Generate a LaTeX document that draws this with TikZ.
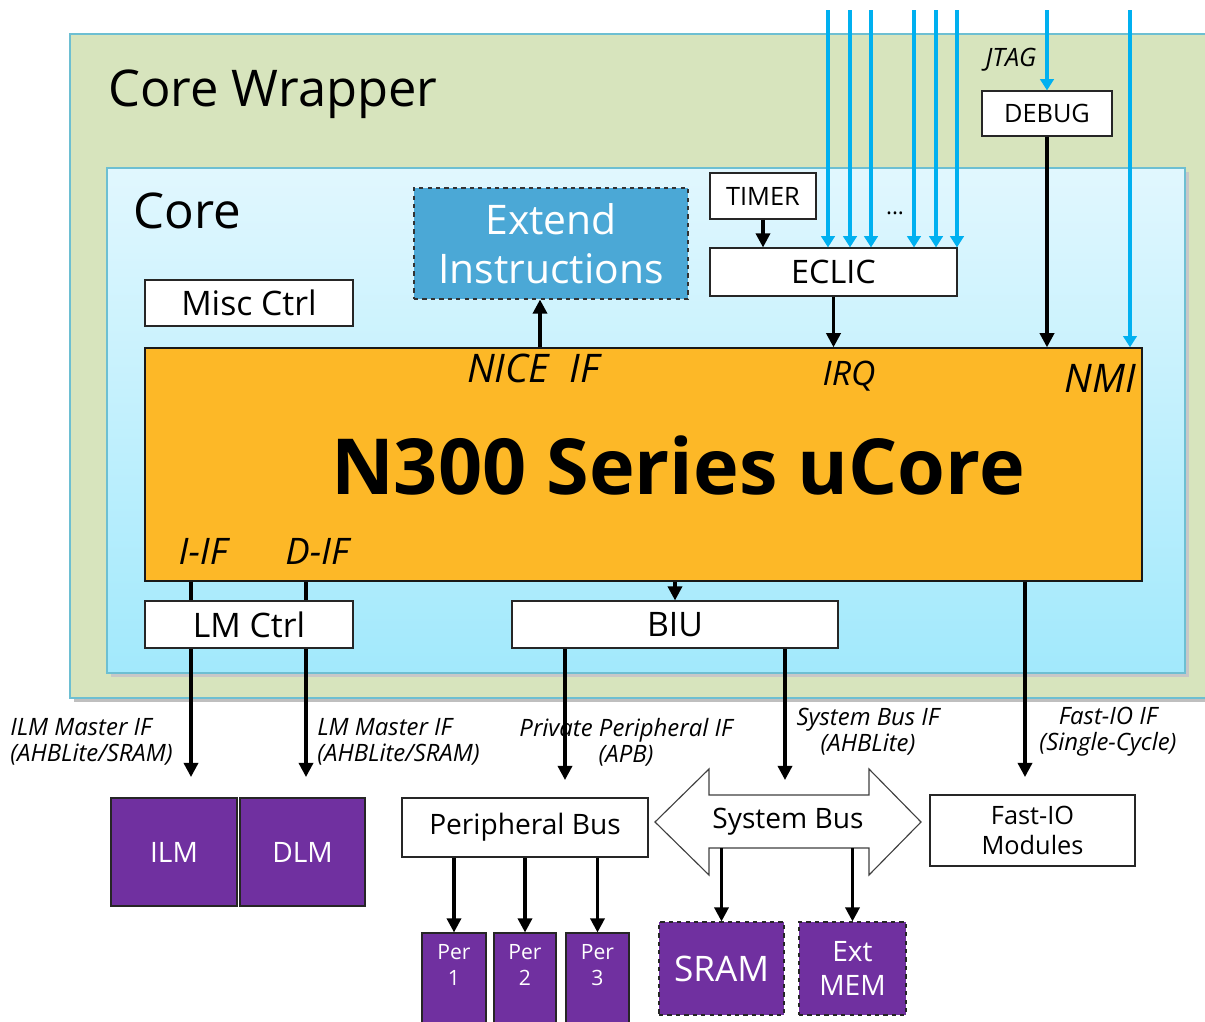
\documentclass[tikz,border=0pt]{standalone}
\usepackage{fontspec}
\setmainfont{Open Sans}
\usepackage{tikz}
\usetikzlibrary{arrows.meta}
\usetikzlibrary{positioning}
\definecolor{wrapgreen}{HTML}{D7E4BD}
\definecolor{wrapedge}{HTML}{6DBFD2}
\definecolor{coretop}{HTML}{E1F7FE}
\definecolor{corebot}{HTML}{A2E9FC}
\definecolor{extblue}{HTML}{4BA8D6}
\definecolor{ucoreorange}{HTML}{FDB827}
\definecolor{mempurple}{HTML}{7030A0}
\definecolor{irqblue}{HTML}{00B0F0}
\newlength{\pxu}
\setlength{\pxu}{0.025cm}
\tikzstyle{box} = [rectangle, draw=black!85, fill=white, line width=0.8pt, inner sep=0pt, text centered, align=center, font=\fontsize{24}{28}\selectfont]
\tikzstyle{smallbox} = [box, font=\fontsize{18}{21}\selectfont]
\tikzstyle{mem} = [box, fill=mempurple, text=white, font=\fontsize{20}{24}\selectfont]
\tikzstyle{pertxt} = [text=white, align=center, inner sep=0pt, font=\fontsize{15}{18}\selectfont]
\tikzstyle{iflabel} = [inner sep=0pt, font=\fontsize{17}{18.5}\selectfont\itshape]
\tikzstyle{pinlabel} = [inner sep=0pt, font=\fontsize{26}{30}\selectfont\itshape]
\tikzstyle{arrow} = [line width=2.3pt, ->, >={Stealth[inset=0pt, length=10pt, width=10pt]}]
\tikzstyle{wire} = [line width=2.3pt]
\tikzstyle{irqline} = [draw=irqblue, line width=2.5pt, ->, >={Stealth[inset=0pt, length=8pt, width=9.5pt]}]
\begin{document}
\begin{tikzpicture}[x=\pxu, y=-\pxu]
    \clip (0,0) rectangle (1205,1021);
    \fill [white] (0,0) rectangle (1205,1021);
    % wrapper and core
    \fill [black!25] (74,38) rectangle (1214,702);
    \draw [fill=wrapgreen, draw=wrapedge, line width=0.8pt] (70,34) rectangle (1210,698);
    \node (wraplbl) [anchor=base west, inner sep=0pt, font=\fontsize{36}{40}\selectfont] at (108,106) {Core Wrapper};
    \fill [black!22] (111,172) rectangle (1189,677);
    \draw [top color=coretop, bottom color=corebot, draw=wrapedge, line width=0.8pt] (107,168) rectangle (1185,673);
    \node (corelbl) [anchor=base west, inner sep=0pt, font=\fontsize{35}{40}\selectfont] at (133,228) {Core};
    % blocks
    \node (extend) [box, fill=extblue, text=white, dashed, draw=black!80, minimum width=274\pxu, minimum height=111\pxu, font=\fontsize{29}{35}\selectfont] at (551,243.5) {Extend\\Instructions};
    \node (misc) [box, minimum width=208\pxu, minimum height=46\pxu] at (249,303) {Misc Ctrl};
    \node (timer) [smallbox, minimum width=106\pxu, minimum height=46\pxu] at (763,196) {TIMER};
    \node (eclic) [box, minimum width=247\pxu, minimum height=48\pxu, font=\fontsize{23}{28}\selectfont] at (833.5,272) {ECLIC};
    \node (debug) [smallbox, minimum width=130\pxu, minimum height=45\pxu] at (1047,113.5) {DEBUG};
    \node (ucore) [box, fill=ucoreorange, draw=black!90, line width=1pt, minimum width=997\pxu, minimum height=233\pxu] at (643.5,464.5) {};
    \node (ucoretxt) [inner sep=0pt, font=\fontsize{55}{60}\selectfont\bfseries] at (678,465) {N300 Series uCore};
    \node (lmctrl) [box, minimum width=208\pxu, minimum height=47\pxu] at (249,624.5) {LM Ctrl};
    \node (biu) [box, minimum width=326\pxu, minimum height=47\pxu] at (675,624.5) {BIU};
    % pins on the uCore
    \node (nicelbl) [pinlabel, font=\fontsize{28}{30}\selectfont\itshape] at (533,368) {NICE~~IF};
    \node (irqlbl) [pinlabel, font=\fontsize{24}{28}\selectfont\itshape] at (849,376) {IRQ};
    \node (nmilbl) [pinlabel, font=\fontsize{28}{30}\selectfont\itshape] at (1100,378) {NMI};
    \node (iiflbl) [pinlabel] at (203,551) {I-IF};
    \node (diflbl) [pinlabel] at (317,551) {D-IF};
    \node (jtaglbl) [pinlabel, font=\fontsize{18}{20}\selectfont\itshape] at (1011,60) {JTAG};
    \node (dots) [inner sep=0pt, font=\fontsize{16}{18}\selectfont] at (895,213) {...};
    % outside blocks
    \node (ilm) [mem, minimum width=126\pxu, minimum height=108\pxu] at (174,852) {ILM};
    \node (dlm) [mem, minimum width=125\pxu, minimum height=108\pxu] at (302.5,852) {DLM};
    \node (pbus) [box, minimum width=246\pxu, minimum height=59\pxu, font=\fontsize{20}{24}\selectfont] at (525,827.5) {Peripheral Bus};
    \node (per1) [mem, minimum width=64\pxu, minimum height=92\pxu] at (454,979) {};
    \node (per2) [mem, minimum width=62\pxu, minimum height=92\pxu] at (525,979) {};
    \node (per3) [mem, minimum width=63\pxu, minimum height=92\pxu] at (597.5,979) {};
    \foreach \p/\n in {per1/1, per2/2, per3/3}
        \node [pertxt, anchor=north] at ([yshift=-12\pxu]\p.north) {Per\\\n};
    \draw [fill=white, draw=black!75, line width=0.8pt] (655,822) -- (709,769) -- (709,795) -- (869,795) -- (869,769)
        -- (921,822) -- (869,875) -- (869,848) -- (709,848) -- (709,875) -- cycle;
    \node (sysbus) [inner sep=0pt, minimum width=160\pxu, minimum height=53\pxu, font=\fontsize{20}{24}\selectfont] at (788,821.5) {System Bus};
    \node (sram) [mem, dashed, minimum width=125\pxu, minimum height=93\pxu, font=\fontsize{25}{30}\selectfont] at (721.5,968.5) {SRAM};
    \node (extmem) [mem, dashed, minimum width=107\pxu, minimum height=93\pxu, font=\fontsize{20}{24}\selectfont] at (852.5,968.5) {Ext\\MEM};
    \node (fastio) [box, minimum width=205\pxu, minimum height=71\pxu, font=\fontsize{18}{21}\selectfont] at (1032.5,830.5) {Fast-IO\\Modules};
    % interface labels
    \node (ilmlbl) [iflabel, anchor=west, align=left] at (10,742) {ILM Master IF\\(AHBLite/SRAM)};
    \node (dlmlbl) [iflabel, anchor=west, align=left] at (317,742) {LM Master IF\\(AHBLite/SRAM)};
    \node (pplbl) [iflabel, align=center] at (626,742) {Private Peripheral IF\\(APB)};
    \node (sblbl) [iflabel, align=center] at (868,731.5) {System Bus IF\\(AHBLite)};
    \node (fiolbl) [iflabel, align=center] at (1108,731.5) {Fast-IO IF\\(Single-Cycle)};
    % wire columns
    \coordinate (niceif) at (540,0);
    \coordinate (nmiin) at (1130,10);
    \coordinate (jtagin) at (1047,10);
    \coordinate (ilmif) at (191,777);
    \coordinate (dlmif) at (306,777);
    \coordinate (ppif) at (565,780);
    \coordinate (sbif) at (785,780);
    \coordinate (fioif) at (1025,777);
    % interrupt lines
    \foreach \x [count=\i] in {828,850,871,914,936,957} {
        \coordinate (irq\i) at (\x,10);
        \draw [irqline] (irq\i) -- (irq\i |- eclic.north);
    }
    \draw [irqline] (nmiin) -- (nmiin |- ucore.north);
    \draw [irqline] (jtagin) -- (jtagin |- debug.north);
    % connections
    \draw [arrow] (timer.south) -- (timer.south |- eclic.north);
    \draw [arrow] (eclic.south) -- (eclic.south |- ucore.north);
    \draw [arrow] (debug.south) -- (debug.south |- ucore.north);
    \draw [arrow] (ucore.north -| niceif) -- (extend.south -| niceif);
    \draw [wire] (ucore.south -| ilmif) -- (lmctrl.north -| ilmif);
    \draw [wire] (ucore.south -| dlmif) -- (lmctrl.north -| dlmif);
    \draw [arrow] (lmctrl.south -| ilmif) -- (ilmif);
    \draw [arrow] (lmctrl.south -| dlmif) -- (dlmif);
    \draw [arrow] (biu.north |- ucore.south) -- (biu.north);
    \draw [arrow] (biu.south -| ppif) -- (ppif);
    \draw [arrow] (biu.south -| sbif) -- (sbif);
    \draw [arrow] (ucore.south -| fioif) -- (fioif);
    \draw [arrow] (pbus.south -| per1) -- (per1.north);
    \draw [arrow] (pbus.south -| per2) -- (per2.north);
    \draw [arrow] (pbus.south -| per3) -- (per3.north);
    \draw [arrow] (sysbus.south -| sram) -- (sram.north);
    \draw [arrow] (sysbus.south -| extmem) -- (extmem.north);
\end{tikzpicture}
\end{document}
